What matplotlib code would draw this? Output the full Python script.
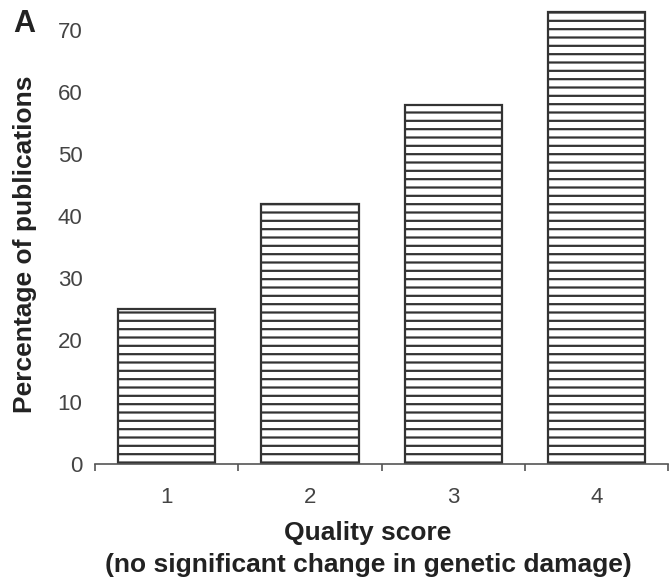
import matplotlib
matplotlib.use("Agg")
import matplotlib.pyplot as plt
from matplotlib.ticker import FixedLocator

categories = ["1", "2", "3", "4"]
values = [25, 42, 58, 73]
yticks = [0, 10, 20, 30, 40, 50, 60, 70]

plt.rcParams['font.family'] = ['Liberation Sans', 'DejaVu Sans']
plt.rcParams['hatch.linewidth'] = 1.6
plt.rcParams['hatch.color'] = '#3a3a3a'

fig = plt.figure(figsize=(6.69, 5.79), dpi=100)
ax = fig.add_axes([0.142, 0.198, 0.857, 0.798])

x = list(range(1, len(categories) + 1))
ax.bar(x, values, width=0.68, facecolor='white', edgecolor='#333333',
       linewidth=1.6, hatch='--')

ax.set_xlim(0.5, 4.5)
ax.set_ylim(0, 74.5)
ax.set_xticks(x)
ax.set_xticklabels(categories)
ax.xaxis.set_minor_locator(FixedLocator([0.5, 1.5, 2.5, 3.5, 4.5]))
ax.tick_params(axis='x', which='major', length=0, pad=16, labelsize=16, labelcolor='#444444')
ax.tick_params(axis='x', which='minor', length=5, width=1.2, color='#555555', direction='out')
ax.set_yticks(yticks)
ax.tick_params(axis='y', length=0, pad=9, labelsize=16, labelcolor='#444444')

for s in ['top', 'right', 'left']:
    ax.spines[s].set_visible(False)
ax.spines['bottom'].set_color('#555555')
ax.spines['bottom'].set_linewidth(1.2)

fig.text(0.55, 0.0674, "Quality score", ha='center', va='baseline',
         fontsize=19, fontweight='bold', color='#222222')
fig.text(0.55, 0.012, "(no significant change in genetic damage)", ha='center', va='baseline',
         fontsize=19, fontweight='bold', color='#222222')
fig.text(0.037, 0.579, "Percentage of publications", rotation=90, ha='center', va='center',
         fontsize=19, fontweight='bold', color='#222222')
fig.text(0.036, 0.9585, "A", ha='center', va='center', fontsize=22, fontweight='bold', color='#222222')

fig.savefig("out.png", dpi=100)
